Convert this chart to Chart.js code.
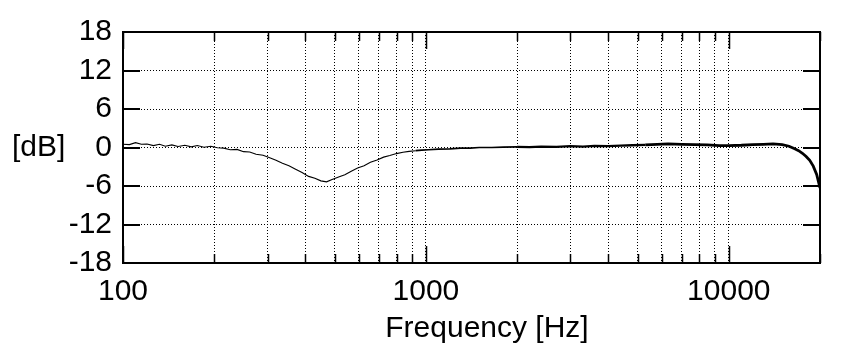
<!DOCTYPE html>
<html>
<head>
<meta charset="utf-8">
<title>Frequency response</title>
<script src="https://cdn.jsdelivr.net/npm/chart.js@4.4.1/dist/chart.umd.min.js"></script>
<style>
  html, body { margin: 0; padding: 0; background: #fff; }
  #wrap { width: 841px; height: 356px; }
</style>
</head>
<body>
<div id="wrap"><canvas id="freqChart" width="841" height="356"></canvas></div>
<script>
const freqs = [
  100, 105, 110, 115, 120, 126, 132, 138, 145, 152, 160, 168, 176, 185, 195,
  205, 215, 226, 238, 250, 262, 275, 290, 305, 320, 336, 353, 370, 390, 410,
  430, 450, 470, 490, 515, 540, 567, 595, 625, 656, 690, 725, 760, 800, 840,
  880, 925, 970, 1020, 1100, 1200, 1300, 1400, 1500, 1650, 1800, 2000, 2200,
  2400, 2700, 3000, 3300, 3600, 4000, 4400, 4800, 5300, 5800, 6300, 7000,
  7700, 8500, 9300, 10000, 11000, 12000, 13000, 14000, 15000, 15800, 16500,
  17000, 17500, 18000, 18500, 19000, 19500, 20000
];
const levels = [
  0.5, 0.45, 0.75, 0.5, 0.55, 0.3, 0.5, 0.2, 0.4, 0.15, 0.35, 0.1, 0.3, 0.05, 0.2,
  -0.05, -0.1, -0.35, -0.3, -0.65, -0.7, -1.05, -1.2, -1.6, -2.0, -2.45, -2.85, -3.35, -3.9, -4.5,
  -4.8, -5.2, -5.35, -5.0, -4.6, -4.25, -3.7, -3.2, -2.85, -2.3, -1.95, -1.5, -1.25, -0.95, -0.75,
  -0.6, -0.5, -0.4, -0.35, -0.25, -0.2, -0.1, -0.1, 0.0, 0.0, 0.05, 0.1, 0.05,
  0.15, 0.1, 0.2, 0.15, 0.25, 0.2, 0.3, 0.35, 0.4, 0.5, 0.55, 0.5,
  0.45, 0.4, 0.3, 0.3, 0.35, 0.45, 0.5, 0.55, 0.45, 0.2, -0.2,
  -0.5, -0.9, -1.4, -2.0, -2.9, -4.2, -6.3
];

// axes
const gridFreqs = [
  100, 200, 300, 400, 500, 600, 700, 800, 900,
  1000, 2000, 3000, 4000, 5000, 6000, 7000, 8000, 9000,
  10000, 20000
];
const xTickLabels = [100, 1000, 10000];
const yTicks = [-18, -12, -6, 0, 6, 12, 18];

const FONT = '"Liberation Sans", Arial, sans-serif';

// inward tick marks, frame and the two axis titles
const framePlugin = {
  id: 'frame',
  afterDraw(chart) {
    const { ctx, chartArea: a, scales: { x, y } } = chart;
    ctx.save();
    ctx.strokeStyle = '#000';

    ctx.lineWidth = 2;
    yTicks.forEach(v => {
      const py = Math.round(y.getPixelForValue(v));
      ctx.beginPath();
      ctx.moveTo(a.left, py);
      ctx.lineTo(a.left + 17, py);
      ctx.moveTo(a.right, py);
      ctx.lineTo(a.right - 17, py);
      ctx.stroke();
    });

    ctx.lineWidth = 1.5;
    gridFreqs.forEach(f => {
      const px = Math.round(x.getPixelForValue(f)) + 0.5;
      const len = xTickLabels.includes(f) ? 17 : 9;
      ctx.beginPath();
      ctx.moveTo(px, a.bottom);
      ctx.lineTo(px, a.bottom - len);
      ctx.moveTo(px, a.top);
      ctx.lineTo(px, a.top + len);
      ctx.stroke();
    });

    ctx.lineWidth = 2;
    ctx.strokeRect(a.left, a.top, a.right - a.left, a.bottom - a.top);

    ctx.fillStyle = '#000';
    ctx.font = '30px ' + FONT;
    ctx.textAlign = 'left';
    ctx.textBaseline = 'middle';
    ctx.fillText('[dB]', 12, 148);
    ctx.textAlign = 'center';
    ctx.textBaseline = 'alphabetic';
    ctx.fillText('Frequency [Hz]', 487, 337);
    ctx.restore();
  }
};

function lineWidthAt(f) {
  if (f < 900) return 1.1;
  if (f < 2000) return 1.7;
  if (f < 5000) return 2.3;
  return 2.8;
}

const ctx = document.getElementById('freqChart').getContext('2d');
new Chart(ctx, {
  type: 'line',
  data: {
    datasets: [{
      data: freqs.map((f, i) => ({ x: f, y: levels[i] })),
      borderColor: '#000',
      borderWidth: 1,
      pointRadius: 0,
      tension: 0,
      fill: false,
      segment: {
        borderWidth: c => lineWidthAt(c.p0.parsed.x)
      }
    }]
  },
  options: {
    responsive: false,
    animation: false,
    layout: { padding: { top: 32, right: 21, bottom: 0, left: 0 } },
    plugins: {
      legend: { display: false },
      tooltip: { enabled: false }
    },
    scales: {
      x: {
        type: 'logarithmic',
        min: 100,
        max: 20000,
        afterFit: s => { s.height = 93; },
        afterBuildTicks: s => { s.ticks = gridFreqs.map(v => ({ value: v })); },
        grid: { color: '#000', lineWidth: 1, drawTicks: false },
        border: { display: false, dash: [1, 2] },
        ticks: {
          autoSkip: false,
          maxRotation: 0,
          padding: 11,
          color: '#000',
          font: { family: FONT, size: 30 },
          callback: v => xTickLabels.includes(v) ? String(v) : ''
        }
      },
      y: {
        min: -18,
        max: 18,
        afterFit: s => { s.width = 123; },
        afterBuildTicks: s => { s.ticks = yTicks.map(v => ({ value: v })); },
        grid: { color: '#000', lineWidth: 1, drawTicks: false },
        border: { display: false, dash: [1, 2] },
        ticks: {
          autoSkip: false,
          padding: 11,
          color: '#000',
          font: { family: FONT, size: 30 }
        }
      }
    }
  },
  plugins: [framePlugin]
});
</script>
</body>
</html>
